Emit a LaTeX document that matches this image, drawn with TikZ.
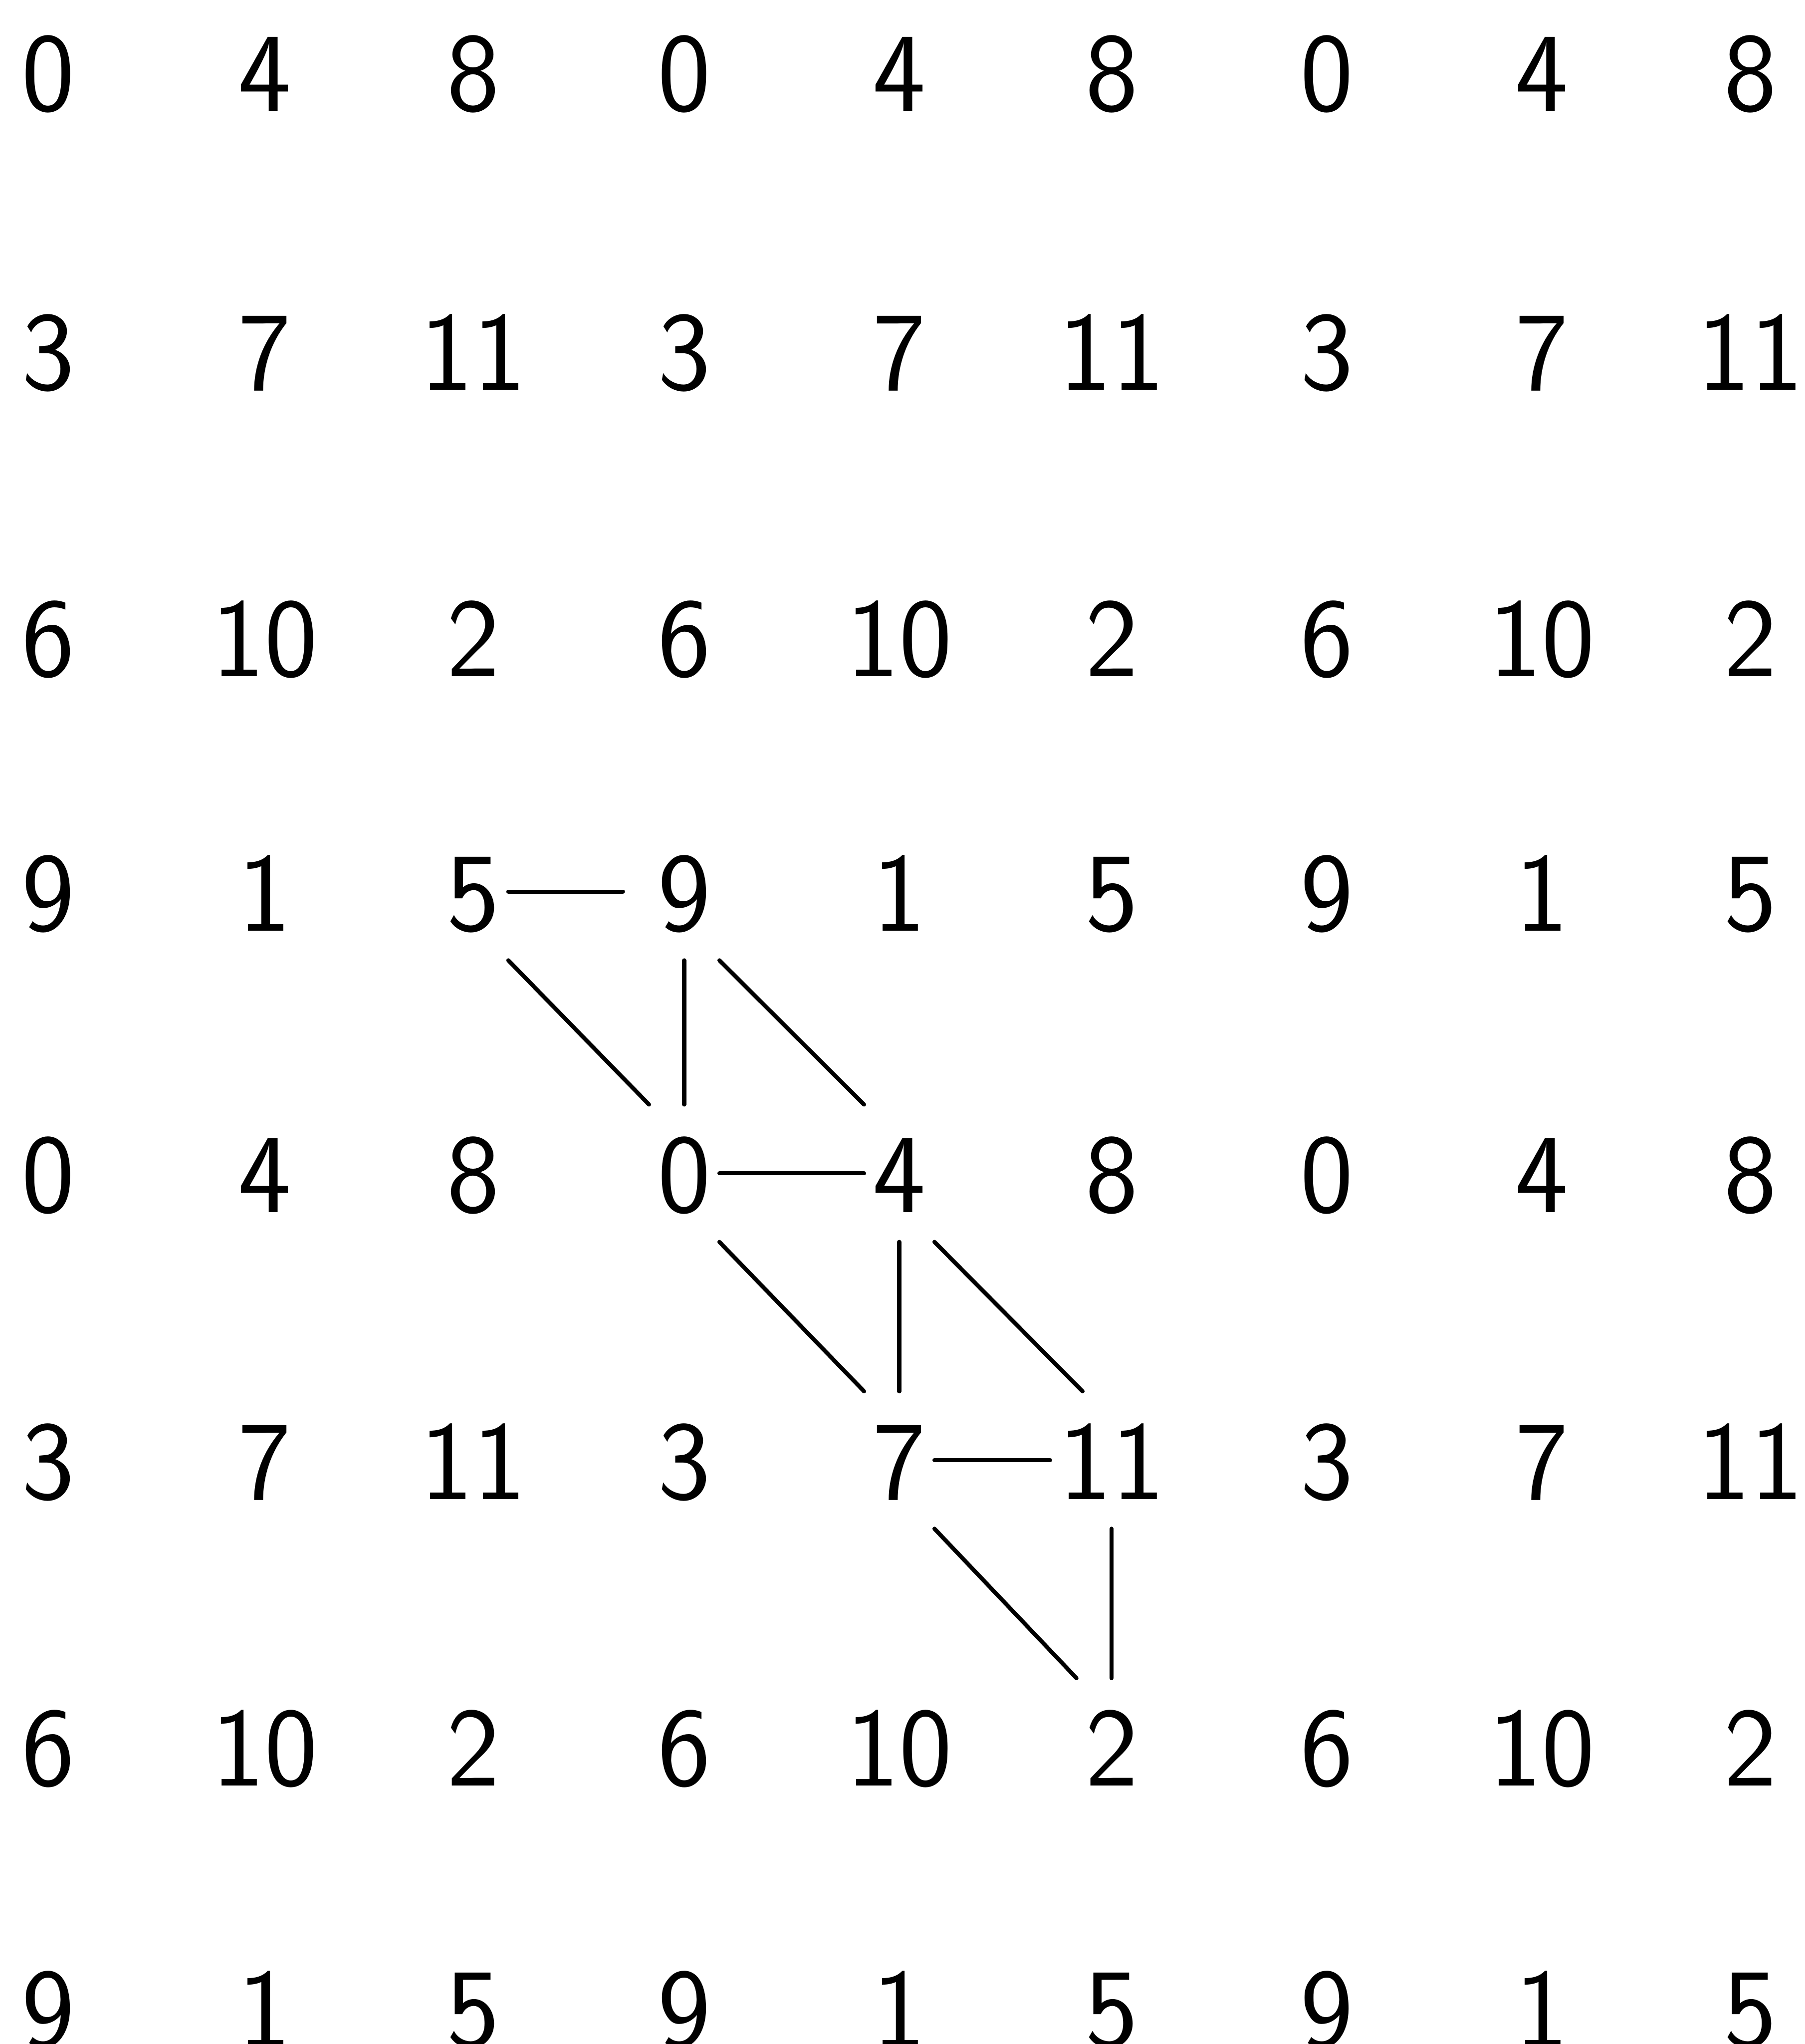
\documentclass[tikz,border=0pt]{standalone}
\usepackage{fontspec}
\usepackage{tikz}
\usetikzlibrary{positioning, calc}

\tikzset{
  num/.style={font=\sffamily\fontsize{24.6}{30}\selectfont, inner xsep=0.06cm, inner ysep=0.22cm,
    text height=0.6cm, text depth=0pt},
  link/.style={black, line width=0.9pt, line cap=round}
}

\begin{document}
\begin{tikzpicture}
\useasboundingbox (0,0) rectangle (13.85,-15.68);

% number grid
\foreach \r/\y in {0/0.55, 1/2.69, 2/4.89, 3/6.84, 4/9.00, 5/11.20, 6/13.40, 7/15.40} {
\foreach \c/\x in {0/0.37, 1/2.03, 2/3.63, 3/5.25, 4/6.90, 5/8.53, 6/10.18, 7/11.83, 8/13.43} {
\pgfmathtruncatemacro{\val}{mod(4*mod(\c,3)+3*mod(\r,4),12)}
\node[num] (n-\r-\c) at (\x,-\y) {\val};
}
}

% links
\draw[link, shorten >=0.2cm] (n-3-2) -- (n-3-3);
\draw[link] (n-3-2.south east) -- (n-4-3.north west);
\draw[link] (n-3-3) -- (n-4-3);
\draw[link] (n-3-3.south east) -- (n-4-4.north west);
\draw[link] (n-4-3) -- (n-4-4);
\draw[link] (n-4-3.south east) -- (n-5-4.north west);
\draw[link] (n-4-4) -- (n-5-4);
\draw[link] (n-4-4.south east) -- ([xshift=0.25cm]n-5-5.north west);
\draw[link] (n-5-4) -- (n-5-5);
\draw[link] (n-5-4.south east) -- (n-6-5.north west);
\draw[link] (n-5-5) -- (n-6-5);
\end{tikzpicture}
\end{document}
